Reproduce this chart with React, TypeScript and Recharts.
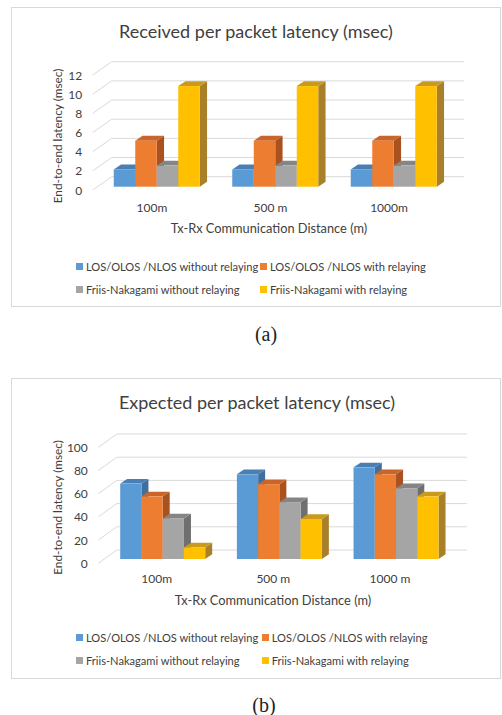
import React from 'react';
import { BarChart, Bar, XAxis, YAxis, CartesianGrid, Legend } from 'recharts';

// ---- data ----
const distancesReceived = ['100m', '500 m', '1000m'];
const distancesExpected = ['100m', '500 m', '1000 m'];

const seriesNames = [
  'LOS/OLOS /NLOS without relaying',
  'LOS/OLOS /NLOS with relaying',
  'Friis-Nakagami without relaying',
  'Friis-Nakagami with relaying',
];

const receivedLosNoRelay = [1.8, 1.8, 1.8];
const receivedLosRelay = [4.8, 4.8, 4.8];
const receivedFriisNoRelay = [2.2, 2.2, 2.2];
const receivedFriisRelay = [10.5, 10.5, 10.5];

const expectedLosNoRelay = [65, 73, 79];
const expectedLosRelay = [54, 64.5, 73];
const expectedFriisNoRelay = [35, 49, 61];
const expectedFriisRelay = [10, 34.5, 54];

const ticksReceived = [0, 2, 4, 6, 8, 10, 12];
const ticksExpected = [0, 20, 40, 60, 80, 100];

// ---- styling ----
const FONT = 'Lato, "Open Sans", sans-serif';
const TEXT = '#404040';
const GRID = '#d9d9d9';

const faces = [
  { front: '#5b9bd5', top: '#4a7fb3', side: '#3f6f9d' },
  { front: '#ed7d31', top: '#c9642a', side: '#a9521f' },
  { front: '#a5a5a5', top: '#858585', side: '#6f6f6f' },
  { front: '#ffc000', top: '#c99a1c', side: '#a9802a' },
];

type Vec = { dx: number; dy: number };

type PanelGeo = {
  chartLeft: number;
  chartTop: number;
  width: number;
  height: number;
  margin: { top: number; right: number; bottom: number; left: number };
  front: Vec;
  back: Vec;
  depth: Vec;
  barSize: number;
  gridInset: number;
  yTickGap: number;
  xTickDy: number;
  legendTop: number;
  legendCol: number;
};

const geoReceived: PanelGeo = {
  chartLeft: 12,
  chartTop: 8,
  width: 488,
  height: 298,
  margin: { top: 63.7, right: 46.75, bottom: 89.3, left: 45.75 },
  front: { dx: -5, dy: 3.3 },
  back: { dx: 14, dy: -10 },
  depth: { dx: 7.3, dy: -4.9 },
  barSize: 21.5,
  gridInset: 3,
  yTickGap: 10.5,
  xTickDy: 17,
  legendTop: 246.5,
  legendCol: 184,
};

const geoExpected: PanelGeo = {
  chartLeft: 12,
  chartTop: 379,
  width: 488,
  height: 299,
  margin: { top: 64, right: 45.8, bottom: 89, left: 52.2 },
  front: { dx: -5.9, dy: 4.3 },
  back: { dx: 12.6, dy: -9 },
  depth: { dx: 7, dy: -4.7 },
  barSize: 21.25,
  gridInset: 0,
  yTickGap: 10.5,
  xTickDy: 15.3,
  legendTop: 247.2,
  legendCol: 185.7,
};

const buildRows = (cats: string[], s0: number[], s1: number[], s2: number[], s3: number[]) =>
  cats.map((c, i) => ({ category: c, s0: s0[i], s1: s1[i], s2: s2[i], s3: s3[i] }));

const rowsReceived = buildRows(distancesReceived, receivedLosNoRelay, receivedLosRelay, receivedFriisNoRelay, receivedFriisRelay);
const rowsExpected = buildRows(distancesExpected, expectedLosNoRelay, expectedLosRelay, expectedFriisNoRelay, expectedFriisRelay);

// 3D-looking bar: front rectangle with a top and a right side face
const makeBarShape = (face: { front: string; top: string; side: string }, depth: Vec) => (props: any) => {
  const { x, y, width, height } = props;
  if (width == null || height == null || isNaN(x) || isNaN(y)) return <g />;
  const { dx, dy } = depth;
  const side = `${x + width},${y} ${x + width + dx},${y + dy} ${x + width + dx},${y + height + dy} ${x + width},${y + height}`;
  const top = `${x},${y} ${x + dx},${y + dy} ${x + width + dx},${y + dy} ${x + width},${y}`;
  return (
    <g>
      <polygon points={side} fill={face.side} />
      <polygon points={top} fill={face.top} />
      <rect x={x} y={y} width={width} height={height} fill={face.front} />
    </g>
  );
};

// back-wall gridline plus the diagonal on the left wall
const makeGridLine = (geo: PanelGeo) => (props: any) => {
  const { x1, x2, y1, index } = props;
  return (
    <g key={`grid-${index}-${y1}`}>
      <line x1={x1 + geo.front.dx} y1={y1 + geo.front.dy} x2={x1 + geo.back.dx} y2={y1 + geo.back.dy} stroke={GRID} strokeWidth={1} />
      <line x1={x1 + geo.back.dx} y1={y1 + geo.back.dy} x2={x2 + geo.back.dx - geo.gridInset} y2={y1 + geo.back.dy} stroke={GRID} strokeWidth={1} />
    </g>
  );
};

const makeYTick = (geo: PanelGeo) => (props: any) => {
  const { y, payload } = props;
  return (
    <text
      x={geo.margin.left + 40 + geo.front.dx - geo.yTickGap}
      y={y + geo.front.dy}
      textAnchor="end"
      dominantBaseline="central"
      fontFamily={FONT}
      fontSize={12}
      fill={TEXT}
    >
      {payload.value}
    </text>
  );
};

const makeXTick = (geo: PanelGeo) => (props: any) => {
  const { x, payload } = props;
  const floor = geo.height - geo.margin.bottom - 30;
  return (
    <text
      x={x + geo.front.dx}
      y={floor + geo.front.dy + geo.xTickDy}
      textAnchor="middle"
      dominantBaseline="central"
      fontFamily={FONT}
      fontSize={12}
      fill={TEXT}
    >
      {payload.value}
    </text>
  );
};

const makeLegend = (col: number) => (props: any) => {
  const payload = [...(props.payload || [])].sort(
    (a: any, b: any) => seriesNames.indexOf(a.value) - seriesNames.indexOf(b.value)
  );
  return (
    <div style={{ display: 'grid', gridTemplateColumns: `${col}px ${col}px`, fontFamily: FONT, fontSize: 11.1, color: TEXT }}>
      {payload.map((entry: any, i: number) => (
        <div key={i} style={{ display: 'flex', alignItems: 'center', height: 23, whiteSpace: 'nowrap' }}>
          <span style={{ display: 'inline-block', flex: '0 0 7px', width: 7, height: 7, background: entry.color, marginRight: 3 }} />
          <span>{entry.value}</span>
        </div>
      ))}
    </div>
  );
};

const Panel = ({ rows, ticks, geo }: { rows: any[]; ticks: number[]; geo: PanelGeo }) => (
  <div style={{ position: 'absolute', left: geo.chartLeft, top: geo.chartTop }}>
    <BarChart width={geo.width} height={geo.height} data={rows} margin={geo.margin} barGap={0}>
      <CartesianGrid vertical={false} horizontal={makeGridLine(geo)} />
      <XAxis dataKey="category" height={30} axisLine={false} tickLine={false} tick={makeXTick(geo)} interval={0} />
      <YAxis
        width={40}
        domain={[ticks[0], ticks[ticks.length - 1]]}
        ticks={ticks}
        axisLine={false}
        tickLine={false}
        tick={makeYTick(geo)}
        interval={0}
      />
      {['s0', 's1', 's2', 's3'].map((key, i) => (
        <Bar
          key={key}
          dataKey={key}
          name={seriesNames[i]}
          fill={faces[i].front}
          barSize={geo.barSize}
          shape={makeBarShape(faces[i], geo.depth)}
          isAnimationActive={false}
        />
      ))}
      <Legend
        layout="vertical"
        align="center"
        verticalAlign="middle"
        content={makeLegend(geo.legendCol)}
        wrapperStyle={{ left: 64, top: geo.legendTop, width: 400, height: 46 }}
      />
    </BarChart>
  </div>
);

const boxStyle = (top: number, height: number): React.CSSProperties => ({
  position: 'absolute',
  left: 11,
  top,
  width: 490,
  height,
  boxSizing: 'border-box',
  border: `1px solid ${GRID}`,
  background: '#fff',
});

export default function App() {
  return (
    <div style={{ position: 'absolute', left: 0, top: 0, width: 502, height: 715, background: '#fff', overflow: 'hidden' }}>
      <div style={boxStyle(7, 300)} />
      <div style={boxStyle(378, 301)} />
      <Panel rows={rowsReceived} ticks={ticksReceived} geo={geoReceived} />
      <Panel rows={rowsExpected} ticks={ticksExpected} geo={geoExpected} />
      <svg width={502} height={715} style={{ position: 'absolute', left: 0, top: 0, pointerEvents: 'none' }}>
        <g fontFamily={FONT} fill={TEXT} textAnchor="middle" dominantBaseline="central">
          <text x={256} y={31} fontSize={18}>Received per packet latency (msec)</text>
          <text x={269} y={228} fontSize={12.8}>Tx-Rx Communication Distance (m)</text>
          <text x={57} y={136} fontSize={11.8} transform="rotate(-90 57 136)">End-to-end latency (msec)</text>
          <text x={257} y={402} fontSize={18}>Expected per packet latency (msec)</text>
          <text x={273} y={599.5} fontSize={12.8}>Tx-Rx Communication Distance (m)</text>
          <text x={57} y={507.5} fontSize={11.8} transform="rotate(-90 57 507.5)">End-to-end latency (msec)</text>
        </g>
        <g fontFamily='"Liberation Serif", "Times New Roman", serif' fill="#222" textAnchor="middle" dominantBaseline="central" fontSize={20}>
          <text x={266} y={334}>(a)</text>
          <text x={264} y={705}>(b)</text>
        </g>
      </svg>
    </div>
  );
}
